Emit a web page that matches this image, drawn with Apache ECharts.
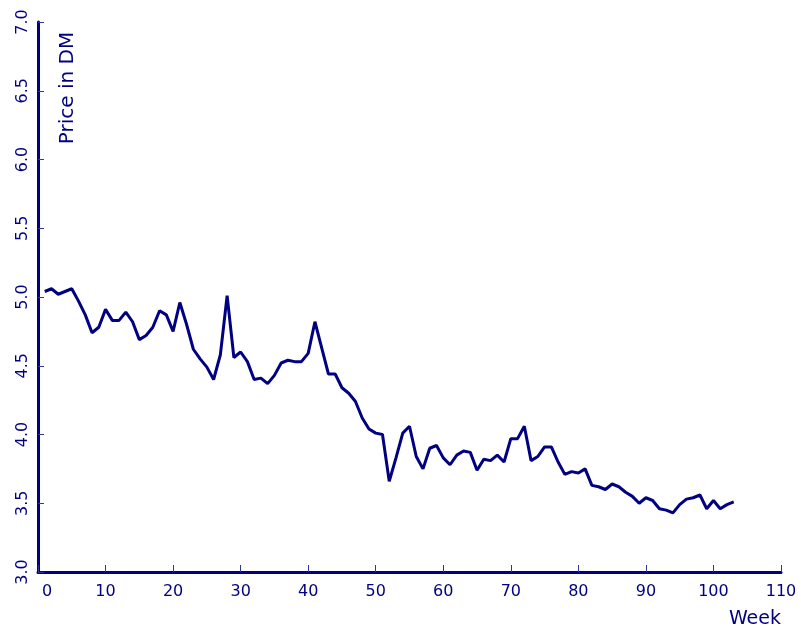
<!DOCTYPE html>
<html>
<head>
<meta charset="utf-8">
<script src="https://cdn.jsdelivr.net/npm/echarts@6/dist/echarts.min.js"></script>
<style>html,body{margin:0;padding:0;background:#fff}#c{width:801px;height:639px}</style>
</head>
<body>
<div id="c"></div>
<script>
var weeks = [];
for (var i = 1; i <= 103; i++) weeks.push(i);
var prices = [
5.04,5.06,5.02,5.04,5.06,4.97,4.87,4.74,4.78,4.91,
4.83,4.83,4.89,4.82,4.69,4.72,4.78,4.90,4.87,4.75,
4.96,4.80,4.62,4.55,4.49,4.40,4.58,5.01,4.56,4.60,
4.53,4.40,4.41,4.37,4.43,4.52,4.54,4.53,4.53,4.59,
4.82,4.63,4.44,4.44,4.34,4.30,4.24,4.12,4.04,4.01,
4.00,3.66,3.83,4.01,4.06,3.84,3.75,3.90,3.92,3.83,
3.78,3.85,3.88,3.87,3.74,3.82,3.81,3.85,3.80,3.97,
3.97,4.06,3.81,3.84,3.91,3.91,3.80,3.71,3.73,3.72,
3.75,3.63,3.62,3.60,3.64,3.62,3.58,3.55,3.50,3.54,
3.52,3.46,3.45,3.43,3.49,3.53,3.54,3.56,3.46,3.52,
3.46,3.49,3.51
];
var xTitle = 'Week';
var yTitle = 'Price in DM';
var navy = '#000080';
var font = 'DejaVu Sans';

var chart = echarts.init(document.getElementById('c'), null, {renderer: 'canvas'});
chart.setOption({
  animation: false,
  backgroundColor: '#ffffff',
  grid: {left: 38, right: 20, top: 22, bottom: 67, containLabel: false},
  xAxis: {
    type: 'value', min: 0, max: 110, interval: 10,
    name: xTitle, nameLocation: 'end', nameGap: 0,
    nameTextStyle: {color: navy, fontFamily: font, fontSize: 19, align: 'right', verticalAlign: 'top', padding: [38, 0, 0, 0]},
    axisLine: {show: true, onZero: false, lineStyle: {color: navy, width: 3}},
    axisTick: {show: true, inside: true, length: 7, lineStyle: {color: '#3333a0', width: 1}},
    axisLabel: {
      color: navy, fontFamily: font, fontSize: 16, margin: 12,
      formatter: function (v) { return v === 0 ? '{f|0}' : String(v); },
      rich: {f: {color: navy, fontFamily: font, fontSize: 16, padding: [0, 0, 0, 18]}}
    },
    splitLine: {show: false}
  },
  yAxis: {
    type: 'value', min: 3.0, max: 7.0, interval: 0.5,
    axisLine: {show: true, onZero: false, lineStyle: {color: navy, width: 3}},
    axisTick: {show: true, inside: true, length: 6, lineStyle: {color: '#3333a0', width: 1}},
    axisLabel: {color: navy, fontFamily: font, fontSize: 16, rotate: 90, margin: 7,
      formatter: function (v) { return v.toFixed(1); }},
    splitLine: {show: false}
  },
  graphic: [{
    type: 'text', x: 68, y: 88, rotation: Math.PI / 2,
    style: {text: yTitle, fill: navy, font: '20px "DejaVu Sans"', align: 'center', verticalAlign: 'middle'}
  }],
  series: [{
    type: 'line',
    data: weeks.map(function (w, i) { return [w, prices[i]]; }),
    showSymbol: false,
    lineStyle: {color: navy, width: 3},
    itemStyle: {color: navy}
  }]
});
</script>
</body>
</html>
